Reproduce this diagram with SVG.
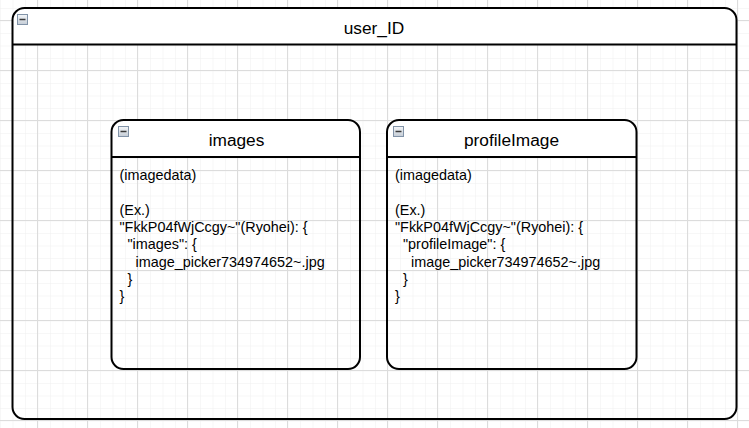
<svg xmlns="http://www.w3.org/2000/svg" width="749" height="428" viewBox="0 0 749 428">
  <style>
    .box { fill: none; stroke: #000; stroke-width: 2; }
    .hdr { fill: #fff; stroke: none; }
    .title { font-family: "Liberation Sans", Arial, sans-serif; font-size: 17.3px; fill: #000; text-anchor: middle; }
    .body { font-family: "Liberation Sans", Arial, sans-serif; font-size: 14.4px; fill: #000; }
    .ico { fill: url(#icoGrad); stroke: #8193a8; stroke-width: 1; }
    .icoMinus { stroke: #3a3a3a; stroke-width: 1.5; }
  </style>
  <defs>
    <pattern id="minor" x="37.5" y="20.5" width="12.5" height="12.5" patternUnits="userSpaceOnUse">
      <path d="M0 0H12.5M0 0V12.5" stroke="#f0f0f0" stroke-width="1" fill="none"/>
    </pattern>
    <pattern id="major" x="37" y="20" width="50" height="50" patternUnits="userSpaceOnUse">
      <path d="M0 0.5H50M0.5 0V50" stroke="#dcdcdc" stroke-width="1" fill="none"/>
    </pattern>
    <linearGradient id="icoGrad" x1="0" y1="0" x2="0" y2="1">
      <stop offset="0" stop-color="#f4f6f8"/>
      <stop offset="1" stop-color="#c4ccd6"/>
    </linearGradient>
  </defs>

  <rect width="749" height="428" fill="#fff"/>
  <rect width="749" height="428" fill="url(#minor)"/>
  <rect width="749" height="428" fill="url(#major)"/>

  <g id="user_ID">
    <path class="hdr" d="M12.5 44.5V20A12 12 0 0 1 24.5 8H724.5A12 12 0 0 1 736.5 20V44.5Z"/>
    <rect class="box" x="12.5" y="8" width="724" height="411" rx="12" ry="12"/>
    <line class="box" x1="12.5" y1="44.5" x2="736.5" y2="44.5"/>
    <rect class="ico" x="17.5" y="14.5" width="10" height="10"/>
    <line class="icoMinus" x1="19.5" y1="19.5" x2="25.5" y2="19.5"/>
    <text class="title" x="374" y="34">user_ID</text>
  </g>

  <g id="images">
    <path class="hdr" d="M111.5 157V132A12 12 0 0 1 123.5 120H348A12 12 0 0 1 360 132V157Z"/>
    <rect class="box" x="111.5" y="120" width="248.5" height="249" rx="12" ry="12"/>
    <line class="box" x1="111.5" y1="157" x2="360" y2="157"/>
    <rect class="ico" x="118.5" y="126.5" width="10" height="10"/>
    <line class="icoMinus" x1="120.5" y1="131.5" x2="126.5" y2="131.5"/>
    <text class="title" x="236.5" y="146">images</text>
    <text class="body" x="119.5" y="180">(imagedata)</text>
    <text class="body" x="119.5" y="214.6">(Ex.)</text>
    <text class="body" x="119.5" y="231.9">"FkkP04fWjCcgy~"(Ryohei): {</text>
    <text class="body" x="127.5" y="249.2">"images": {</text>
    <text class="body" x="135.5" y="266.5">image_picker734974652~.jpg</text>
    <text class="body" x="127.5" y="283.8">}</text>
    <text class="body" x="119.5" y="301.1">}</text>
  </g>

  <g id="profileImage">
    <path class="hdr" d="M387 157V132A12 12 0 0 1 399 120H624.5A12 12 0 0 1 636.5 132V157Z"/>
    <rect class="box" x="387" y="120" width="249.5" height="249" rx="12" ry="12"/>
    <line class="box" x1="387" y1="157" x2="636.5" y2="157"/>
    <rect class="ico" x="393.5" y="126.5" width="10" height="10"/>
    <line class="icoMinus" x1="395.5" y1="131.5" x2="401.5" y2="131.5"/>
    <text class="title" x="511.5" y="146">profileImage</text>
    <text class="body" x="395" y="180">(imagedata)</text>
    <text class="body" x="395" y="214.6">(Ex.)</text>
    <text class="body" x="395" y="231.9">"FkkP04fWjCcgy~"(Ryohei): {</text>
    <text class="body" x="403" y="249.2">"profileImage": {</text>
    <text class="body" x="411" y="266.5">image_picker734974652~.jpg</text>
    <text class="body" x="403" y="283.8">}</text>
    <text class="body" x="395" y="301.1">}</text>
  </g>

  <g id="connectors"></g>
</svg>
